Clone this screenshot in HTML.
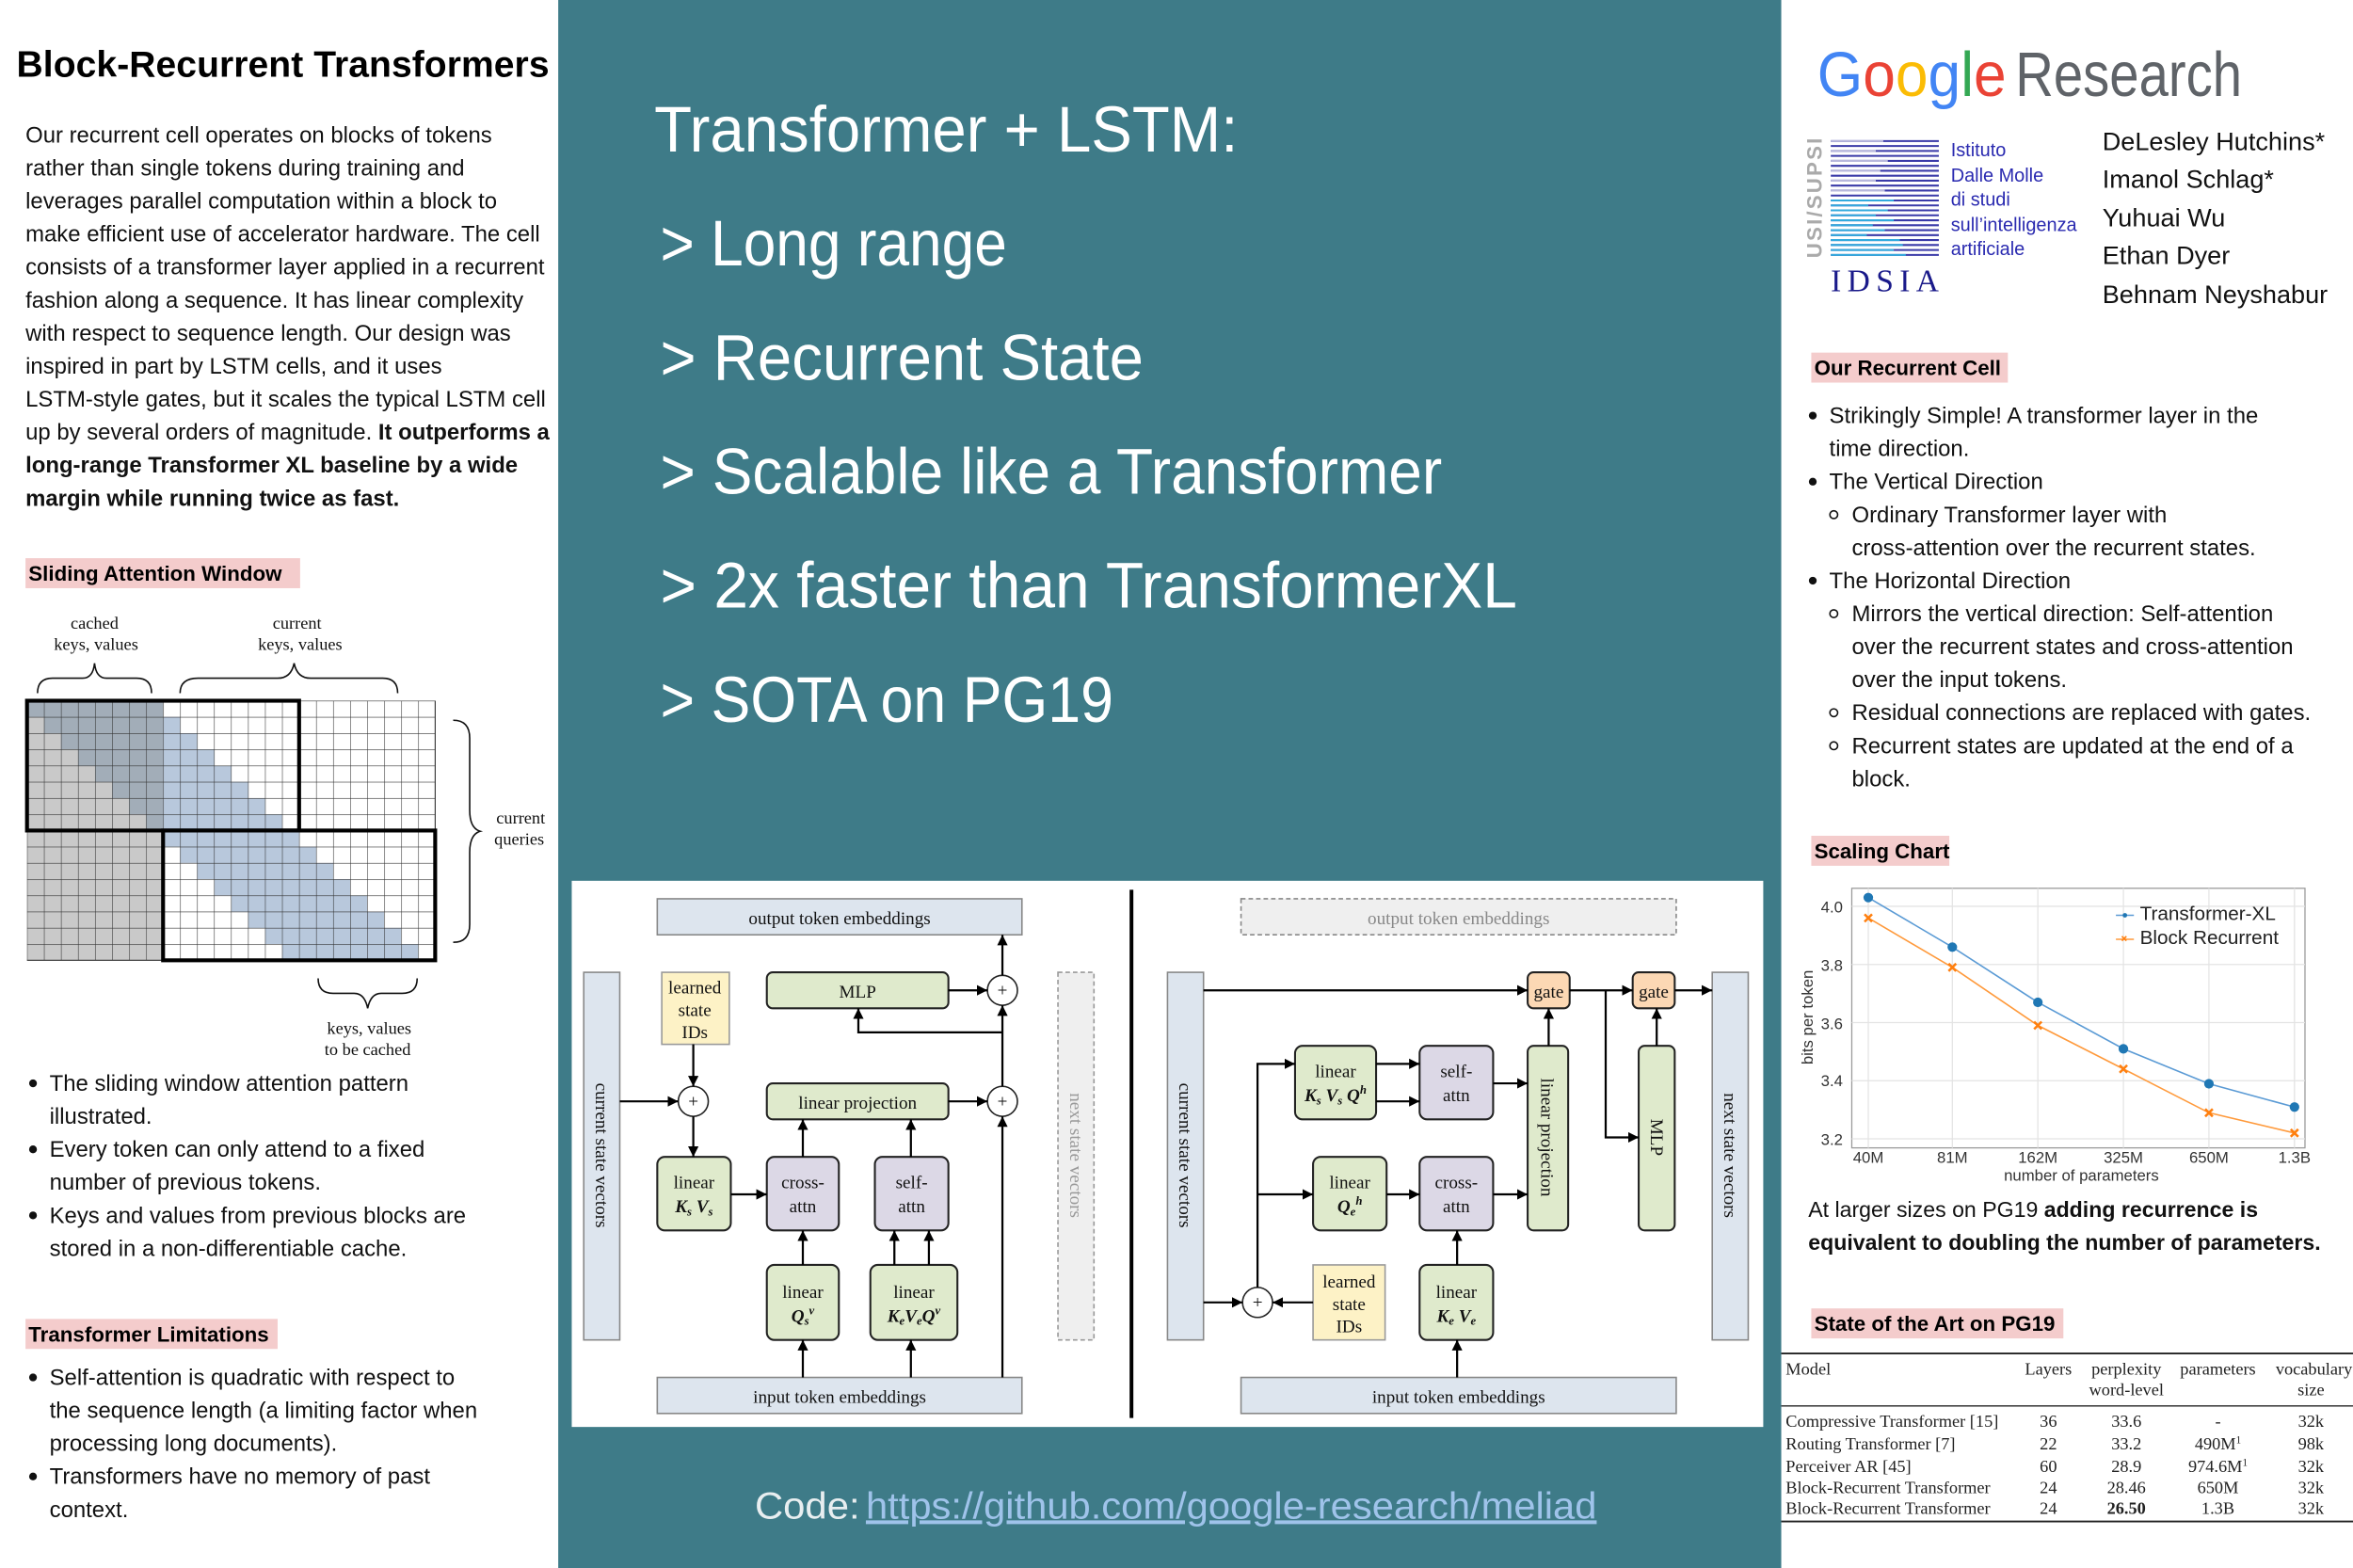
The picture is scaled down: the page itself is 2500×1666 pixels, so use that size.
<!DOCTYPE html>
<html><head><meta charset="utf-8"><style>
html,body{margin:0;padding:0;background:#fff;}
svg{display:block;}
.s{font-family:"Liberation Sans",sans-serif;}
.r{font-family:"Liberation Serif",serif;}
</style></head><body>
<svg width="2500" height="1666" viewBox="0 0 1568 1045" preserveAspectRatio="none" xmlns="http://www.w3.org/2000/svg">
<defs>
<pattern id="grid" x="18" y="467" width="11.3333" height="10.8125" patternUnits="userSpaceOnUse">
<path d="M0 0H11.3333M0 0V10.8125" stroke="#333" stroke-width="0.7" fill="none"/>
</pattern>
<marker id="ah" viewBox="0 0 10 10" refX="10" refY="5" markerWidth="7" markerHeight="7" markerUnits="userSpaceOnUse" orient="auto"><path d="M0 0L10 5L0 10z" fill="#000"/></marker>
</defs>
<rect x="0" y="0" width="1568" height="1045" fill="#fff"/>
<rect x="372" y="0" width="815" height="1045" fill="#3e7b88"/>

<!-- LEFT PANEL -->
<text x="11" y="51" class="s" font-size="24.5" font-weight="bold" textLength="355">Block-Recurrent Transformers</text>
<g class="s" font-size="15" fill="#111">
<text x="17" y="95">Our recurrent cell operates on blocks of tokens</text>
<text x="17" y="117">rather than single tokens during training and</text>
<text x="17" y="139">leverages parallel computation within a block to</text>
<text x="17" y="161">make efficient use of accelerator hardware. The cell</text>
<text x="17" y="183">consists of a transformer layer applied in a recurrent</text>
<text x="17" y="205">fashion along a sequence. It has linear complexity</text>
<text x="17" y="227">with respect to sequence length. Our design was</text>
<text x="17" y="249">inspired in part by LSTM cells, and it uses</text>
<text x="17" y="271">LSTM-style gates, but it scales the typical LSTM cell</text>
<text x="17" y="293">up by several orders of magnitude. <tspan font-weight="bold">It outperforms a</tspan></text>
<text x="17" y="315" font-weight="bold">long-range Transformer XL baseline by a wide</text>
<text x="17" y="337" font-weight="bold">margin while running twice as fast.</text>
</g>
<rect x="17" y="372" width="183" height="20" fill="#f4cccc"/>
<text x="19" y="387" class="s" font-size="14" font-weight="bold">Sliding  Attention Window</text>

<!-- grid figure -->
<rect x="18" y="467" width="90.67" height="173" fill="#c9c9c9"/>
<polygon fill="#a2adb8" points="18,467 108.67,467 108.67,553.5 97.33,553.5 97.33,542.69 86,542.69 86,531.88 74.67,531.88 74.67,521.06 63.33,521.06 63.33,510.25 52,510.25 52,499.44 40.67,499.44 40.67,488.63 29.33,488.63 29.33,477.81 18,477.81"/>
<polygon fill="#b8c8dc" points="108.67,477.81 120,477.81 120,488.63 131.33,488.63 131.33,499.44 142.67,499.44 142.67,510.25 154,510.25 154,521.06 165.33,521.06 165.33,531.88 176.67,531.88 176.67,542.69 188,542.69 188,553.5 108.67,553.5"/>
<polygon fill="#b8c8dc" points="108.67,553.5 199.33,553.5 199.33,564.31 210.67,564.31 210.67,575.13 222,575.13 222,585.94 233.33,585.94 233.33,596.75 244.67,596.75 244.67,607.56 256,607.56 256,618.38 267.33,618.38 267.33,629.19 278.67,629.19 278.67,640 188,640 188,629.19 176.67,629.19 176.67,618.38 165.33,618.38 165.33,607.56 154,607.56 154,596.75 142.67,596.75 142.67,585.94 131.33,585.94 131.33,575.13 120,575.13 120,564.31 108.67,564.31"/>
<rect x="18" y="467" width="272" height="173" fill="url(#grid)"/>
<path d="M290 467V640M18 640H290" stroke="#333" stroke-width="0.7"/>
<rect x="18" y="467" width="181.33" height="86.5" fill="none" stroke="#000" stroke-width="2.6"/>
<rect x="108.67" y="553.5" width="181.33" height="86.5" fill="none" stroke="#000" stroke-width="2.6"/>
<g class="r" font-size="11.5" text-anchor="middle" fill="#111">
<text x="63" y="419">cached</text><text x="64" y="433">keys, values</text>
<text x="198" y="419">current</text><text x="200" y="433">keys, values</text>
<text x="347" y="549">current</text><text x="346" y="563">queries</text>
<text x="246" y="689">keys, values</text><text x="245" y="703">to be cached</text>
</g>
<g fill="none" stroke="#111" stroke-width="1">
<path d="M25 462 Q25 452 35 452 H55 Q62 452 63 442 Q64 452 71 452 H91 Q101 452 101 462"/>
<path d="M120 462 Q120 452 132 452 H185 Q194 452 196 442 Q198 452 207 452 H255 Q265 452 265 462"/>
<path d="M302 480 Q313 480 313 492 V540 Q313 552 320 554 Q313 556 313 568 V616 Q313 628 302 628"/>
<path d="M212 652 Q212 662 222 662 H236 Q243 662 245 672 Q247 662 254 662 H268 Q278 662 278 652"/>
</g>

<g class="s" font-size="15" fill="#111">
<circle cx="22" cy="722" r="2.6" fill="#111"/>
<text x="33" y="727">The sliding window attention pattern</text>
<text x="33" y="749">illustrated.</text>
<circle cx="22" cy="766" r="2.6" fill="#111"/>
<text x="33" y="771">Every token can only attend to a fixed</text>
<text x="33" y="793">number of previous tokens.</text>
<circle cx="22" cy="810" r="2.6" fill="#111"/>
<text x="33" y="815">Keys and values from previous blocks are</text>
<text x="33" y="837">stored in a non-differentiable cache.</text>
</g>
<rect x="17" y="879" width="168" height="20" fill="#f4cccc"/>
<text x="19" y="894" class="s" font-size="14" font-weight="bold">Transformer Limitations</text>
<g class="s" font-size="15" fill="#111">
<circle cx="22" cy="918" r="2.6" fill="#111"/>
<text x="33" y="923">Self-attention is quadratic with respect to</text>
<text x="33" y="945">the sequence length (a limiting factor when</text>
<text x="33" y="967">processing long documents).</text>
<circle cx="22" cy="984" r="2.6" fill="#111"/>
<text x="33" y="989">Transformers have no memory of past</text>
<text x="33" y="1011">context.</text>
</g>

<!-- CENTER -->
<g class="s" font-size="43" fill="#fff">
<text x="436" y="101" textLength="389" lengthAdjust="spacingAndGlyphs">Transformer + LSTM:</text>
<text x="440" y="177" textLength="231" lengthAdjust="spacingAndGlyphs">&gt; Long range</text>
<text x="440" y="253" textLength="322" lengthAdjust="spacingAndGlyphs">&gt; Recurrent State</text>
<text x="440" y="329" textLength="521" lengthAdjust="spacingAndGlyphs">&gt; Scalable like a Transformer</text>
<text x="440" y="405" textLength="571" lengthAdjust="spacingAndGlyphs">&gt; 2x faster than TransformerXL</text>
<text x="440" y="481" textLength="302" lengthAdjust="spacingAndGlyphs">&gt; SOTA on PG19</text>
</g>
<text x="503" y="1012" class="s" font-size="25" fill="#e8eef0" textLength="70" lengthAdjust="spacingAndGlyphs">Code:</text>
<text x="577" y="1012" class="s" font-size="25" fill="#9fc3ea" text-decoration="underline" textLength="487" lengthAdjust="spacingAndGlyphs">https://github.com/google-research/meliad</text>

<!-- DIAGRAM -->
<rect x="381" y="587" width="794" height="364" fill="#fff"/>
<line x1="754" y1="593" x2="754" y2="945" stroke="#000" stroke-width="2.5"/>
<g class="r" font-size="12" fill="#111">
<rect x="438" y="599" width="243" height="24" fill="#dde5ee" stroke="#888"/>
<text x="559.5" y="616" text-anchor="middle">output token embeddings</text>
<rect x="389" y="648" width="24" height="245" fill="#dde5ee" stroke="#888"/>
<text transform="translate(397,770) rotate(90)" text-anchor="middle">current state vectors</text>
<rect x="441" y="648" width="45" height="48" fill="#fdf2c6" stroke="#999"/>
<text x="463" y="662" text-anchor="middle">learned</text><text x="463" y="677" text-anchor="middle">state</text><text x="463" y="692" text-anchor="middle">IDs</text>
<rect x="511" y="648" width="121" height="24" rx="4" fill="#dfeacc" stroke="#222" stroke-width="1.3"/>
<text x="571.5" y="665" text-anchor="middle">MLP</text>
<rect x="511" y="722" width="121" height="24" rx="4" fill="#dfeacc" stroke="#222" stroke-width="1.3"/>
<text x="571.5" y="739" text-anchor="middle">linear projection</text>
<rect x="705" y="648" width="24" height="245" fill="#efefef" stroke="#999" stroke-dasharray="3,2"/>
<text transform="translate(713,770) rotate(90)" text-anchor="middle" fill="#999">next state vectors</text>
<rect x="438" y="771" width="49" height="49" rx="5" fill="#dfeacc" stroke="#222" stroke-width="1.3"/>
<text x="462.5" y="792" text-anchor="middle">linear</text><text x="462.5" y="808" text-anchor="middle" font-style="italic" font-weight="bold">K<tspan font-size="8" dy="2">s</tspan><tspan dy="-2"> V</tspan><tspan font-size="8" dy="2">s</tspan></text>
<rect x="511" y="771" width="48" height="49" rx="5" fill="#dcd8e6" stroke="#222" stroke-width="1.3"/>
<text x="535" y="792" text-anchor="middle">cross-</text><text x="535" y="808" text-anchor="middle">attn</text>
<rect x="583" y="771" width="49" height="49" rx="5" fill="#dcd8e6" stroke="#222" stroke-width="1.3"/>
<text x="607.5" y="792" text-anchor="middle">self-</text><text x="607.5" y="808" text-anchor="middle">attn</text>
<rect x="511" y="843" width="48" height="50" rx="5" fill="#dfeacc" stroke="#222" stroke-width="1.3"/>
<text x="535" y="865" text-anchor="middle">linear</text><text x="535" y="881" text-anchor="middle" font-style="italic" font-weight="bold">Q<tspan font-size="8" dy="2">s</tspan><tspan font-size="8" dy="-7">v</tspan></text>
<rect x="580" y="843" width="58" height="50" rx="5" fill="#dfeacc" stroke="#222" stroke-width="1.3"/>
<text x="609" y="865" text-anchor="middle">linear</text><text x="609" y="881" text-anchor="middle" font-style="italic" font-weight="bold">K<tspan font-size="8" dy="2">e</tspan><tspan dy="-2">V</tspan><tspan font-size="8" dy="2">e</tspan><tspan dy="-2">Q</tspan><tspan font-size="8" dy="-5">v</tspan></text>
<rect x="438" y="918" width="243" height="24" fill="#dde5ee" stroke="#888"/>
<text x="559.5" y="935" text-anchor="middle">input token embeddings</text>
<circle cx="462" cy="734" r="10" fill="#fff" stroke="#222"/><text x="462" y="738" text-anchor="middle">+</text>
<circle cx="668" cy="660" r="10" fill="#fff" stroke="#222"/><text x="668" y="664" text-anchor="middle">+</text>
<circle cx="668" cy="734" r="10" fill="#fff" stroke="#222"/><text x="668" y="738" text-anchor="middle">+</text>

<rect x="827" y="599" width="290" height="24" fill="#efefef" stroke="#888" stroke-dasharray="3,2"/>
<text x="972" y="616" text-anchor="middle" fill="#888">output token embeddings</text>
<rect x="778" y="648" width="24" height="245" fill="#dde5ee" stroke="#888"/>
<text transform="translate(786,770) rotate(90)" text-anchor="middle">current state vectors</text>
<rect x="1141" y="648" width="24" height="245" fill="#dde5ee" stroke="#888"/>
<text transform="translate(1149,770) rotate(90)" text-anchor="middle">next state vectors</text>
<rect x="1018" y="648" width="28" height="24" rx="4" fill="#fcd8b4" stroke="#222" stroke-width="1.3"/>
<text x="1032" y="665" text-anchor="middle">gate</text>
<rect x="1088" y="648" width="28" height="24" rx="4" fill="#fcd8b4" stroke="#222" stroke-width="1.3"/>
<text x="1102" y="665" text-anchor="middle">gate</text>
<rect x="863" y="697" width="54" height="49" rx="5" fill="#dfeacc" stroke="#222" stroke-width="1.3"/>
<text x="890" y="718" text-anchor="middle">linear</text><text x="890" y="734" text-anchor="middle" font-style="italic" font-weight="bold">K<tspan font-size="8" dy="2">s</tspan><tspan dy="-2"> V</tspan><tspan font-size="8" dy="2">s</tspan><tspan dy="-2"> Q</tspan><tspan font-size="8" dy="-5">h</tspan></text>
<rect x="946" y="697" width="49" height="49" rx="5" fill="#dcd8e6" stroke="#222" stroke-width="1.3"/>
<text x="970.5" y="718" text-anchor="middle">self-</text><text x="970.5" y="734" text-anchor="middle">attn</text>
<rect x="1018" y="697" width="27" height="123" rx="4" fill="#dfeacc" stroke="#222" stroke-width="1.3"/>
<text transform="translate(1027,758) rotate(90)" text-anchor="middle">linear projection</text>
<rect x="1092" y="697" width="24" height="123" rx="4" fill="#dfeacc" stroke="#222" stroke-width="1.3"/>
<text transform="translate(1100,758) rotate(90)" text-anchor="middle">MLP</text>
<rect x="875" y="771" width="49" height="49" rx="5" fill="#dfeacc" stroke="#222" stroke-width="1.3"/>
<text x="899.5" y="792" text-anchor="middle">linear</text><text x="899.5" y="808" text-anchor="middle" font-style="italic" font-weight="bold">Q<tspan font-size="8" dy="2">e</tspan><tspan font-size="8" dy="-7">h</tspan></text>
<rect x="946" y="771" width="49" height="49" rx="5" fill="#dcd8e6" stroke="#222" stroke-width="1.3"/>
<text x="970.5" y="792" text-anchor="middle">cross-</text><text x="970.5" y="808" text-anchor="middle">attn</text>
<rect x="875" y="843" width="48" height="50" fill="#fdf2c6" stroke="#999"/>
<text x="899" y="858" text-anchor="middle">learned</text><text x="899" y="873" text-anchor="middle">state</text><text x="899" y="888" text-anchor="middle">IDs</text>
<rect x="946" y="843" width="49" height="50" rx="5" fill="#dfeacc" stroke="#222" stroke-width="1.3"/>
<text x="970.5" y="865" text-anchor="middle">linear</text><text x="970.5" y="881" text-anchor="middle" font-style="italic" font-weight="bold">K<tspan font-size="8" dy="2">e</tspan><tspan dy="-2"> V</tspan><tspan font-size="8" dy="2">e</tspan></text>
<rect x="827" y="918" width="290" height="24" fill="#dde5ee" stroke="#888"/>
<text x="972" y="935" text-anchor="middle">input token embeddings</text>
<circle cx="838" cy="868" r="10" fill="#fff" stroke="#222"/><text x="838" y="872" text-anchor="middle">+</text>
</g>

<g stroke="#000" stroke-width="1.4" fill="none" marker-end="url(#ah)">
<path d="M413 734H452"/>
<path d="M462 696V724"/>
<path d="M462 744V771"/>
<path d="M487 796H511"/>
<path d="M535 771V746"/>
<path d="M607 771V746"/>
<path d="M535 918V893"/>
<path d="M607 918V893"/>
<path d="M535 843V820"/>
<path d="M596 843V820"/>
<path d="M619 843V820"/>
<path d="M632 734H658"/>
<path d="M668 918V744"/>
<path d="M668 724V670"/>
<path d="M668 688H572V672"/>
<path d="M632 660H658"/>
<path d="M668 650V623"/>
<path d="M802 660H1018"/>
<path d="M1046 660H1088"/>
<path d="M1070 660V758H1092"/>
<path d="M1116 660H1141"/>
<path d="M1032 697V672"/>
<path d="M1104 697V672"/>
<path d="M802 868H828"/>
<path d="M875 868H848"/>
<path d="M838 858V709H863"/>
<path d="M838 796H875"/>
<path d="M917 709H946"/>
<path d="M917 734H946"/>
<path d="M995 722H1018"/>
<path d="M924 796H946"/>
<path d="M995 796H1018"/>
<path d="M971 843V820"/>
<path d="M971 918V893"/>
</g>

<!-- RIGHT PANEL -->
<g class="s" font-size="42">
<text x="1211" y="64" textLength="126" lengthAdjust="spacingAndGlyphs"><tspan fill="#4285f4">G</tspan><tspan fill="#ea4335">o</tspan><tspan fill="#fbbc05">o</tspan><tspan fill="#4285f4">g</tspan><tspan fill="#34a853">l</tspan><tspan fill="#ea4335">e</tspan></text>
<text x="1343" y="64" fill="#5f6368" textLength="151" lengthAdjust="spacingAndGlyphs">Research</text>
</g>
<text transform="translate(1214,172) rotate(-90)" class="s" font-size="14" font-weight="bold" fill="#aaa" textLength="80">USI/SUPSI</text>
<g stroke-width="1.3">
<path d="M1220 94H1292M1220 97.3H1292M1220 100.6H1292M1220 103.9H1292M1220 107.2H1292M1220 110.5H1292M1220 113.8H1292M1220 117.1H1292M1220 120.4H1292M1220 123.7H1292M1220 127H1292M1220 130.3H1292M1220 133.6H1292M1220 136.9H1292M1220 140.2H1292M1220 143.5H1292M1220 146.8H1292M1220 150.1H1292M1220 153.4H1292M1220 156.7H1292M1220 160H1292M1220 163.3H1292M1220 166.6H1292M1220 169.9H1292" stroke="#3a3aa8"/>
<path d="M1220 94H1255M1220 100.6H1250M1220 107.2H1258M1220 113.8H1253M1220 120.4H1250M1220 127H1256" stroke="#b8b8dc"/>
<path d="M1220 133.6H1262M1220 140.2H1258M1220 146.8H1262M1220 153.4H1256M1220 160H1266M1220 166.6H1262M1220 136.9H1245M1220 143.5H1250M1220 150.1H1248M1220 156.7H1244M1220 163.3H1268M1220 169.9H1270" stroke="#33aadd"/>
</g>
<text x="1220" y="194" class="r" font-size="21" fill="#1a1a8a" textLength="72">IDSIA</text>
<g class="s" font-size="12.5" fill="#2a2ab0">
<text x="1300" y="104">Istituto</text>
<text x="1300" y="121">Dalle Molle</text>
<text x="1300" y="137">di studi</text>
<text x="1300" y="154">sull’intelligenza</text>
<text x="1300" y="170">artificiale</text>
</g>
<g class="s" font-size="17" fill="#111">
<text x="1401" y="100">DeLesley Hutchins*</text>
<text x="1401" y="125">Imanol Schlag*</text>
<text x="1401" y="151">Yuhuai Wu</text>
<text x="1401" y="176">Ethan Dyer</text>
<text x="1401" y="202">Behnam Neyshabur</text>
</g>
<rect x="1207" y="235" width="131" height="20" fill="#f4cccc"/>
<text x="1209" y="250" class="s" font-size="14" font-weight="bold">Our Recurrent Cell</text>
<g class="s" font-size="15" fill="#111">
<circle cx="1208" cy="277" r="2.6"/><text x="1219" y="282">Strikingly Simple! A transformer layer in the</text>
<text x="1219" y="304">time direction.</text>
<circle cx="1208" cy="321" r="2.6"/><text x="1219" y="326">The Vertical Direction</text>
<circle cx="1222" cy="343" r="2.6" fill="none" stroke="#111"/><text x="1234" y="348">Ordinary Transformer layer with</text>
<text x="1234" y="370">cross-attention over the recurrent states.</text>
<circle cx="1208" cy="387" r="2.6"/><text x="1219" y="392">The Horizontal Direction</text>
<circle cx="1222" cy="409" r="2.6" fill="none" stroke="#111"/><text x="1234" y="414">Mirrors the vertical direction: Self-attention</text>
<text x="1234" y="436">over the recurrent states and cross-attention</text>
<text x="1234" y="458">over the input tokens.</text>
<circle cx="1222" cy="475" r="2.6" fill="none" stroke="#111"/><text x="1234" y="480">Residual connections are replaced with gates.</text>
<circle cx="1222" cy="497" r="2.6" fill="none" stroke="#111"/><text x="1234" y="502">Recurrent states are updated at the end of a</text>
<text x="1234" y="524">block.</text>
</g>
<rect x="1207" y="557" width="92" height="20" fill="#f4cccc"/>
<text x="1209" y="572" class="s" font-size="14" font-weight="bold">Scaling Chart</text>

<rect x="1234" y="592" width="302" height="173" fill="#fff" stroke="#999" stroke-width="0.8"/>
<g stroke="#e4e4e4" stroke-width="0.8">
<path d="M1245 592V765M1301 592V765M1358 592V765M1415 592V765M1472 592V765M1529 592V765"/>
<path d="M1234 604H1536M1234 642.75H1536M1234 681.5H1536M1234 720.25H1536M1234 759H1536"/>
</g>
<polyline fill="none" stroke="#5b9bd5" stroke-width="1" points="1245,598.2 1301,631.2 1358,668 1415,699 1472,722.3 1529,737.8"/>
<polyline fill="none" stroke="#ff9a3c" stroke-width="1" points="1245,611.8 1301,644.7 1358,683.4 1415,712.4 1472,741.6 1529,755.1"/>
<g fill="#1f77b4"><circle cx="1245" cy="598.2" r="3.2"/><circle cx="1301" cy="631.2" r="3.2"/><circle cx="1358" cy="668" r="3.2"/><circle cx="1415" cy="699" r="3.2"/><circle cx="1472" cy="722.3" r="3.2"/><circle cx="1529" cy="737.8" r="3.2"/></g>
<g stroke="#ff7f0e" stroke-width="1.6"><path d="M1242.5 609.3l5 5m0 -5l-5 5M1298.5 642.2l5 5m0-5l-5 5M1355.5 680.9l5 5m0-5l-5 5M1412.5 709.9l5 5m0-5l-5 5M1469.5 739.1l5 5m0-5l-5 5M1526.5 752.6l5 5m0-5l-5 5"/></g>
<g class="s" font-size="10.5" fill="#333">
<text x="1228" y="608" text-anchor="end">4.0</text>
<text x="1228" y="647" text-anchor="end">3.8</text>
<text x="1228" y="686" text-anchor="end">3.6</text>
<text x="1228" y="724" text-anchor="end">3.4</text>
<text x="1228" y="763" text-anchor="end">3.2</text>
<g text-anchor="middle"><text x="1245" y="775">40M</text><text x="1301" y="775">81M</text><text x="1358" y="775">162M</text><text x="1415" y="775">325M</text><text x="1472" y="775">650M</text><text x="1529" y="775">1.3B</text></g>
<text x="1387" y="787" text-anchor="middle">number of parameters</text>
<text transform="translate(1208,678) rotate(-90)" text-anchor="middle">bits per token</text>
</g>
<path d="M1410 610H1422" stroke="#5b9bd5"/><circle cx="1416" cy="610" r="1.5" fill="#1f77b4"/>
<path d="M1410 626H1422" stroke="#ff9a3c"/><path d="M1414 624l3 3m0-3l-3 3" stroke="#ff7f0e"/>
<text x="1426" y="613" class="s" font-size="13" fill="#222">Transformer-XL</text>
<text x="1426" y="629" class="s" font-size="13" fill="#222">Block Recurrent</text>
<g class="s" font-size="14.5" fill="#111">
<text x="1205" y="811">At larger sizes on PG19 <tspan font-weight="bold">adding recurrence is</tspan></text>
<text x="1205" y="833" font-weight="bold">equivalent to doubling the number of parameters.</text>
</g>
<rect x="1207" y="872" width="168" height="20" fill="#f4cccc"/>
<text x="1209" y="887" class="s" font-size="14" font-weight="bold">State of the Art on PG19</text>
<path d="M1187 902H1568" stroke="#222" stroke-width="1.2"/>
<path d="M1187 937H1568" stroke="#222" stroke-width="0.8"/>
<path d="M1187 1014H1568" stroke="#222" stroke-width="1.2"/>
<g class="r" font-size="11.5" fill="#222">
<text x="1190" y="916">Model</text>
<text x="1365" y="916" text-anchor="middle">Layers</text>
<text x="1417" y="916" text-anchor="middle">perplexity</text><text x="1417" y="930" text-anchor="middle">word-level</text>
<text x="1478" y="916" text-anchor="middle">parameters</text>
<text x="1542" y="916" text-anchor="middle">vocabulary</text><text x="1540" y="930" text-anchor="middle">size</text>
<text x="1190" y="951">Compressive Transformer [15]</text>
<text x="1190" y="966">Routing Transformer [7]</text>
<text x="1190" y="981">Perceiver AR [45]</text>
<text x="1190" y="995">Block-Recurrent Transformer</text>
<text x="1190" y="1009">Block-Recurrent Transformer</text>
<g text-anchor="middle">
<text x="1365" y="951">36</text><text x="1365" y="966">22</text><text x="1365" y="981">60</text><text x="1365" y="995">24</text><text x="1365" y="1009">24</text>
<text x="1417" y="951">33.6</text><text x="1417" y="966">33.2</text><text x="1417" y="981">28.9</text><text x="1417" y="995">28.46</text><text x="1417" y="1009" font-weight="bold">26.50</text>
<text x="1478" y="951">-</text><text x="1478" y="966">490M<tspan font-size="7" dy="-4">1</tspan></text><text x="1478" y="981">974.6M<tspan font-size="7" dy="-4">1</tspan></text><text x="1478" y="995">650M</text><text x="1478" y="1009">1.3B</text>
<text x="1540" y="951">32k</text><text x="1540" y="966">98k</text><text x="1540" y="981">32k</text><text x="1540" y="995">32k</text><text x="1540" y="1009">32k</text>
</g>
</g>
</svg>
</body></html>
